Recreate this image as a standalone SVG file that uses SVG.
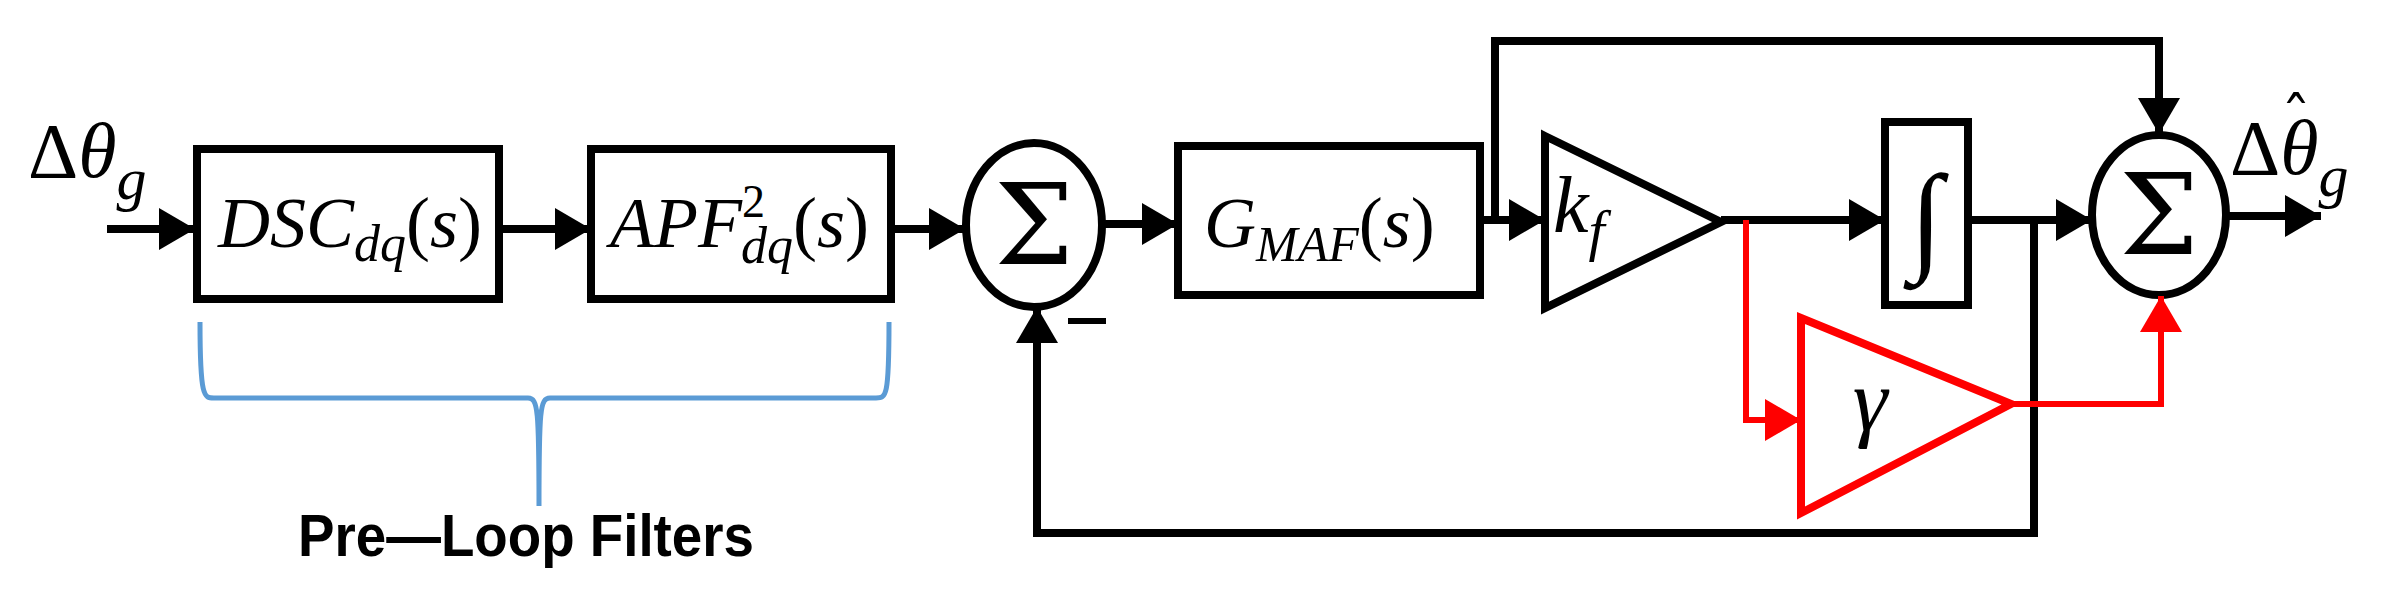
<svg xmlns="http://www.w3.org/2000/svg" width="2389" height="597" viewBox="0 0 2389 597">
<style>
.box{fill:none;stroke:#000;stroke-width:8}
.ln{fill:none;stroke:#000;stroke-width:8}
.red{fill:none;stroke:#f00;stroke-width:6}
.m{font-family:"Liberation Serif",serif;font-style:italic;fill:#000}
.up{font-style:normal}
.sg{font-family:"DejaVu Serif","Liberation Serif",serif;fill:#000}
.lbl{font-family:"Liberation Sans",sans-serif;font-weight:bold;font-size:60px;fill:#000}
</style>
<defs>
<marker id="ah" markerUnits="userSpaceOnUse" markerWidth="36" markerHeight="42" refX="36" refY="21" orient="auto"><path d="M0,0L36,21L0,42z" fill="#000"/></marker>
<marker id="ahr" markerUnits="userSpaceOnUse" markerWidth="36" markerHeight="42" refX="36" refY="21" orient="auto"><path d="M0,0L36,21L0,42z" fill="#f00"/></marker>
</defs>
<g id="input"><text class="m" x="28" y="177" font-size="78"><tspan class="up">Δ</tspan>θ<tspan font-size="60" dy="22">g</tspan></text></g>
<g id="dsc"><rect class="box" x="197" y="149" width="302" height="150"/>
<text class="m" x="218" y="247" font-size="72">DSC<tspan font-size="52" dy="14">dq</tspan><tspan dy="-14" class="up">(</tspan>s<tspan class="up">)</tspan></text></g>
<g id="apf"><rect class="box" x="591" y="149" width="300" height="150"/>
<text class="m" x="610" y="247" font-size="72">APF<tspan font-size="46" dy="-30" class="up">2</tspan><tspan font-size="52" dx="-24" dy="46">dq</tspan><tspan dy="-16" class="up">(</tspan>s<tspan class="up">)</tspan></text></g>
<g id="sum1"><ellipse class="box" cx="1034" cy="225" rx="68" ry="82"/><text class="sg" x="1034" y="264" font-size="112" text-anchor="middle">Σ</text>
<rect x="1068" y="318" width="38" height="6" fill="#000"/></g>
<g id="gmaf"><rect class="box" x="1178" y="146" width="302" height="149"/>
<text class="m" x="1204" y="247" font-size="72">G<tspan font-size="50" dy="14">MAF</tspan><tspan dy="-14" class="up">(</tspan>s<tspan class="up">)</tspan></text></g>
<g id="kf"><path class="box" d="M1545,136L1721,222L1545,308Z"/><text class="m" x="1553" y="232" font-size="80">k<tspan font-size="58" dy="18">f</tspan></text></g>
<g id="integ"><rect class="box" x="1885" y="122" width="83" height="183"/><text class="m" x="1926" y="258" font-size="120" text-anchor="middle">∫</text></g>
<g id="sum2"><ellipse class="box" cx="2159" cy="215" rx="67" ry="80"/><text class="sg" x="2159" y="254" font-size="112" text-anchor="middle">Σ</text></g>
<g id="gamma"><path d="M1801,318L2011,404L1801,513Z" fill="none" stroke="#f00" stroke-width="8"/><text class="m" x="1870" y="430" font-size="88" text-anchor="middle">γ</text></g>
<g id="output"><text class="m" x="2230" y="174" font-size="78"><tspan class="up">Δ</tspan>θ<tspan font-size="60" dy="22">g</tspan></text><text class="sg" x="2296" y="140" font-size="60" text-anchor="middle">ˆ</text></g>
<g id="brace"><path d="M200,322C200,398 204,398 214,398L528,398C538,398 539,410 539,506C539,410 540,398 550,398L876,398C886,398 889,398 889,322" fill="none" stroke="#5b9bd5" stroke-width="5"/>
<text class="lbl" x="298" y="556" textLength="456" lengthAdjust="spacingAndGlyphs">Pre—Loop Filters</text></g>
<g id="connectors">
<path class="ln" d="M107,229H195" marker-end="url(#ah)"/>
<path class="ln" d="M499,229H591" marker-end="url(#ah)"/>
<path class="ln" d="M891,229H965" marker-end="url(#ah)"/>
<path class="ln" d="M1102,224H1178" marker-end="url(#ah)"/>
<path class="ln" d="M1480,220H1545" marker-end="url(#ah)"/>
<path class="ln" d="M1495,220V41H2159V134" marker-end="url(#ah)"/>
<path class="ln" d="M1721,220H1885" marker-end="url(#ah)"/>
<path class="ln" d="M1968,220H2092" marker-end="url(#ah)"/>
<path class="ln" d="M2034,220V533H1037V307" marker-end="url(#ah)"/>
<path class="ln" d="M2226,216H2321" marker-end="url(#ah)"/>
<path class="red" d="M1746,220V420H1801" marker-end="url(#ahr)"/>
<path class="red" d="M2011,404H2161V296" marker-end="url(#ahr)"/>
</g>
</svg>
